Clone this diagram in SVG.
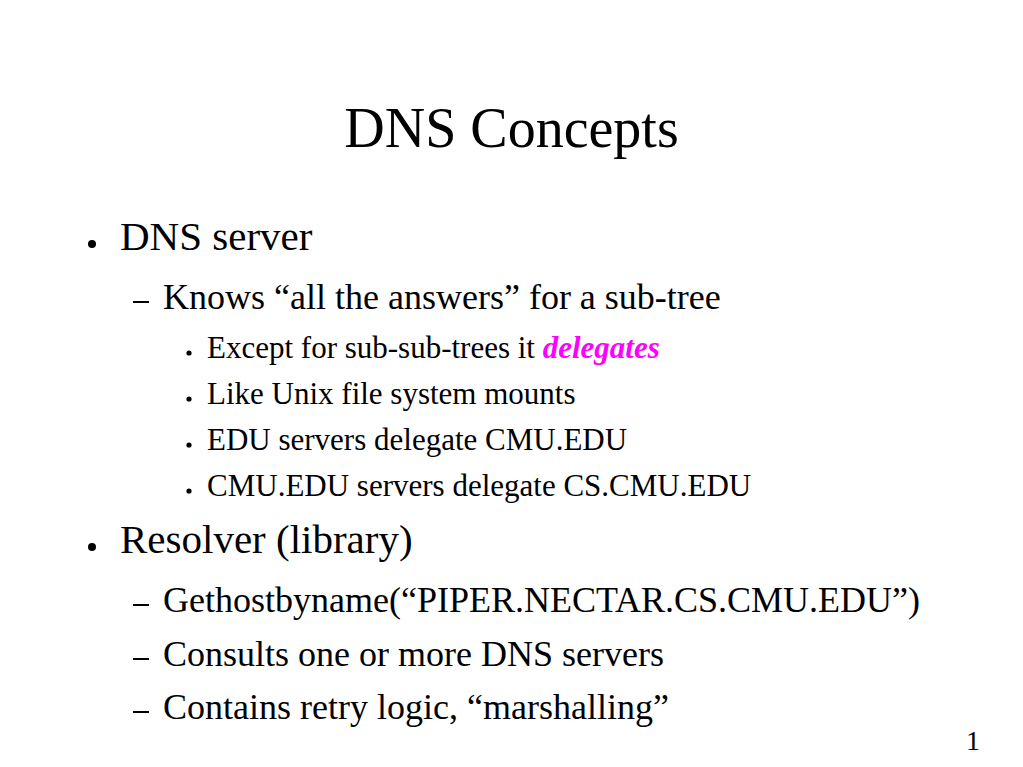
<svg xmlns="http://www.w3.org/2000/svg" width="1023" height="767" viewBox="0 0 1023 767">
<style>
text{font-family:"Liberation Serif","Times New Roman",serif;fill:#000}
.t{font-size:56px}
.l1{font-size:41px}
.l2{font-size:36px}
.l3{font-size:31px}
.pg{font-size:28px}
.em{fill:#ff00ff;font-weight:bold;font-style:italic}
</style>
<rect width="1023" height="767" fill="#fff"/>
<g id="title"><text class="t" x="511.5" y="147" text-anchor="middle">DNS Concepts</text></g>
<g id="dns-server">
<circle cx="92" cy="244" r="4"/>
<text class="l1" x="120" y="250">DNS server</text>
<rect x="133" y="301" width="16" height="2"/>
<text class="l2" x="163" y="309">Knows “all the answers” for a sub-tree</text>
<circle cx="189" cy="353" r="2.6"/>
<text class="l3" x="207" y="358">Except for sub-sub-trees it <tspan class="em">delegates</tspan></text>
<circle cx="189" cy="399" r="2.6"/>
<text class="l3" x="207" y="404">Like Unix file system mounts</text>
<circle cx="189" cy="445" r="2.6"/>
<text class="l3" x="207" y="450">EDU servers delegate CMU.EDU</text>
<circle cx="189" cy="491" r="2.6"/>
<text class="l3" x="207" y="496">CMU.EDU servers delegate CS.CMU.EDU</text>
</g>
<g id="resolver">
<circle cx="92" cy="547" r="4"/>
<text class="l1" x="120" y="553">Resolver (library)</text>
<rect x="133" y="604" width="16" height="2"/>
<text class="l2" x="163" y="612">Gethostbyname(“PIPER.NECTAR.CS.CMU.EDU”)</text>
<rect x="133" y="658" width="16" height="2"/>
<text class="l2" x="163" y="666">Consults one or more DNS servers</text>
<rect x="133" y="711" width="16" height="2"/>
<text class="l2" x="163" y="719">Contains retry logic, “marshalling”</text>
</g>
<g id="page"><text class="pg" x="966" y="750">1</text></g>
</svg>
